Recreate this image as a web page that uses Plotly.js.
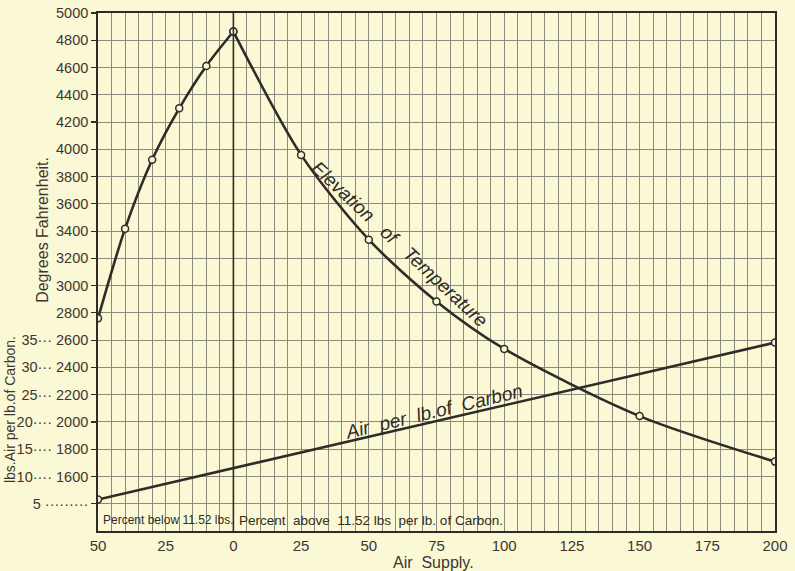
<!DOCTYPE html>
<html>
<head>
<meta charset="utf-8">
<script src="https://cdn.plot.ly/plotly-3.0.1.min.js"></script>
<style>
html,body{margin:0;padding:0;background:#fbf9d5;}
#chart{width:795px;height:571px;}
</style>
</head>
<body>
<div id="chart"></div>
<script>
// Air supply: negative = percent below 11.52 lbs, positive = percent above
var tempAirLeft = [-50, -40, -30, -20, -10, 0];
var tempLeft = [2760, 3418, 3924, 4301, 4612, 4864];
var tempAirRight = [0, 25, 50, 75, 100, 150, 200];
var tempRight = [4864, 3959, 3337, 2884, 2536, 2043, 1709];

var airSupply = [-50, 200];
var lbsAirPerLbCarbon = [5.76, 34.56];

var xTickVals = [-50, -25, 0, 25, 50, 75, 100, 125, 150, 175, 200];
var xTickText = ["50", "25", "0", "25", "50", "75", "100", "125", "150", "175", "200"];

var yTickVals = [1400, 1600, 1800, 2000, 2200, 2400, 2600, 2800, 3000, 3200, 3400, 3600, 3800, 4000, 4200, 4400, 4600, 4800, 5000];
var yTickText = ["5 ·········", "10···· 1600", "15···· 1800", "20···· 2000", "25··· 2200", "30··· 2400", "35··· 2600",
  "2800", "3000", "3200", "3400", "3600", "3800", "4000", "4200", "4400", "4600", "4800", "5000"];

var ink = "#2f2b28";
var gridc = "#8c8a7c";
var fnt = "Liberation Sans, Arial, sans-serif";

var marker = {symbol: "circle", size: 7, color: "#fbf9d5", line: {color: ink, width: 1.5}};

var traces = [
  {x: tempAirLeft, y: tempLeft, type: "scatter", mode: "lines+markers",
   line: {color: ink, width: 2.6, shape: "spline", smoothing: 0.8}, marker: marker, hoverinfo: "x+y"},
  {x: tempAirRight, y: tempRight, type: "scatter", mode: "lines+markers",
   line: {color: ink, width: 2.6, shape: "spline", smoothing: 0.8}, marker: marker, hoverinfo: "x+y"},
  {x: airSupply, y: lbsAirPerLbCarbon, yaxis: "y2", type: "scatter", mode: "lines+markers",
   line: {color: ink, width: 2.6}, marker: marker, hoverinfo: "x+y"}
];

var layout = {
  width: 795, height: 571,
  margin: {l: 98, r: 20, t: 13, b: 40},
  paper_bgcolor: "#fbf9d5",
  plot_bgcolor: "#fbf9d5",
  showlegend: false,
  font: {family: fnt, color: "#3b3632", size: 14},
  xaxis: {
    range: [-50, 200], tickmode: "array", tickvals: xTickVals, ticktext: xTickText,
    showgrid: true, gridcolor: gridc, gridwidth: 1,
    minor: {dtick: 5, tick0: 0, showgrid: true, gridcolor: gridc, gridwidth: 1},
    zeroline: false, showline: true, mirror: true, linecolor: ink, linewidth: 1.8,
    ticks: "", tickfont: {size: 15, family: fnt, color: "#3b3632"}
  },
  yaxis: {
    range: [1200, 5000], tickmode: "array", tickvals: yTickVals, ticktext: yTickText,
    showgrid: true, gridcolor: gridc, gridwidth: 1,
    zeroline: false, showline: true, mirror: true, linecolor: ink, linewidth: 1.8,
    ticks: "outside", ticklen: 5, tickcolor: ink, tickwidth: 1.2,
    tickfont: {size: 14.5, family: fnt, color: "#3b3632"}
  },
  yaxis2: {range: [0, 95], overlaying: "y", visible: false},
  shapes: [
    {type: "line", xref: "x", yref: "paper", x0: 0, x1: 0, y0: 0, y1: 1, line: {color: ink, width: 1.6}}
  ],
  annotations: [
    {text: "Elevation   of   Temperature", xref: "x", yref: "y", x: 61.5, y: 3300, showarrow: false,
     textangle: 43, font: {size: 19, family: fnt, color: ink, style: "italic"}},
    {text: "Air  per  lb.of  Carbon", xref: "x", yref: "y", x: 74, y: 2080, showarrow: false,
     textangle: -13.5, font: {size: 19, family: fnt, color: ink, style: "italic"}},
    {text: "Percent below 11.52 lbs.", xref: "x", yref: "y", x: -49, y: 1280, xanchor: "left", showarrow: false,
     font: {size: 12, family: fnt, color: ink}},
    {text: "Percent  above  11.52 lbs  per lb. of Carbon.", xref: "x", yref: "y", x: 1.5, y: 1280, xanchor: "left", showarrow: false,
     font: {size: 13.5, family: fnt, color: ink}},
    {text: "Air  Supply.", xref: "paper", yref: "paper", x: 0.495, y: -0.0615, xanchor: "center", yanchor: "middle", showarrow: false,
     font: {size: 16, family: fnt, color: "#3b3632"}},
    {text: "Degrees Fahrenheit.", xref: "paper", yref: "paper", x: -0.083, y: 0.581, xanchor: "center", yanchor: "middle", textangle: -90, showarrow: false,
     font: {size: 16, family: fnt, color: "#3b3632"}},
    {text: "lbs.Air per lb.of Carbon.", xref: "paper", yref: "paper", x: -0.131, y: 0.234, xanchor: "center", yanchor: "middle", textangle: -90, showarrow: false,
     font: {size: 14, family: fnt, color: "#3b3632"}}
  ]
};

Plotly.newPlot("chart", traces, layout, {staticPlot: true, displayModeBar: false});
</script>
</body>
</html>
